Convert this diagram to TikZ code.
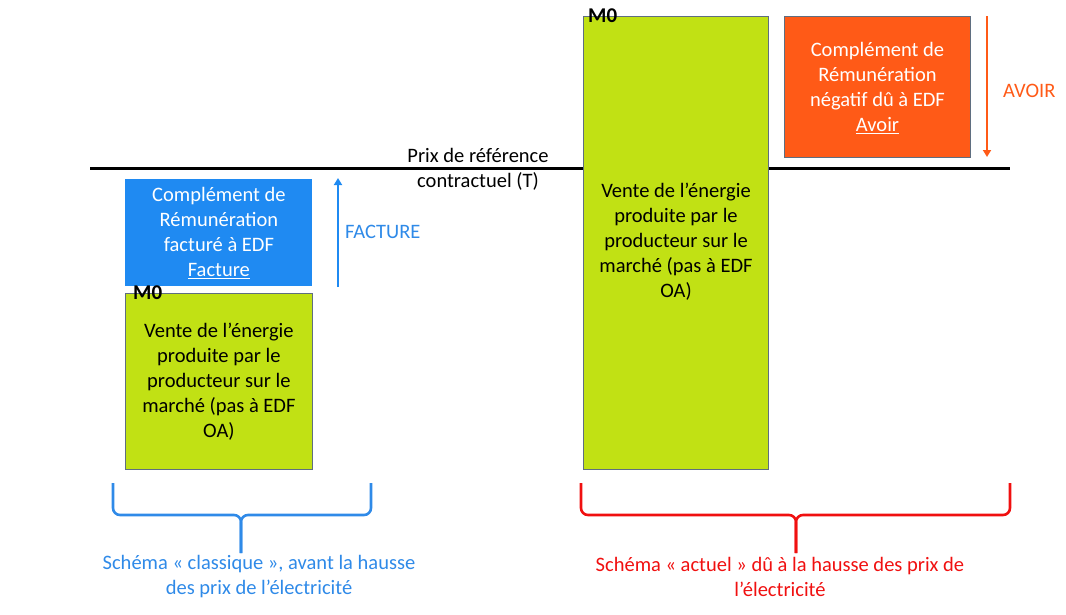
\documentclass[tikz,border=0pt]{standalone}
\usepackage{fontspec}
\setmainfont{Carlito}
\usetikzlibrary{arrows.meta}
\definecolor{cblue}{HTML}{1F8AF2}
\definecolor{cgreen}{HTML}{C1E114}
\definecolor{corange}{HTML}{FF5A17}
\definecolor{cred}{HTML}{F01010}
\definecolor{ctblue}{HTML}{2F8AE8}
\definecolor{cborder}{HTML}{5F6E80}
\tikzset{
  box/.style={draw=cborder, line width=0.8pt, inner sep=0pt, anchor=north west, align=center},
  greenbox/.style={box, fill=cgreen, text=black},
  bluebox/.style={box, draw=none, fill=cblue, text=white},
  orangebox/.style={box, draw=cborder, line width=1pt, fill=corange, text=white},
  mlabel/.style={font=\fontsize{21}{22}\selectfont\bfseries, inner sep=0pt, anchor=west},
  plain/.style={font=\fontsize{20.5}{25}\selectfont, align=center, inner sep=0pt},
  brace/.style={line width=2.6pt, rounded corners=7pt},
  arr/.style={line width=2.8pt, -{Triangle[width=8pt,length=7pt]}}
}
\begin{document}
\begin{tikzpicture}[x=1pt,y=-1pt]
\useasboundingbox (0,0) rectangle (1066,614);
% reference line
\coordinate (L0) at (90,168);
\coordinate (L1) at (1010,168);
\draw[line width=3pt] (L0) -- (L1);
% left scheme
\node[bluebox, minimum width=187pt, minimum height=107pt] (cb) at (125,179) {};
\node[plain, text=white] at (cb.center) {Complément de\\Rémunération\\facturé à EDF\\\underline{Facture}};
\node[greenbox, minimum width=187pt, minimum height=176pt] (g1) at (125,293) {};
\node[plain] at (g1.center) {Vente de l’énergie\\produite par le\\producteur sur le\\marché (pas à EDF\\OA)};
\node[mlabel] (m1) at (133,293) {M0};
\coordinate (fa0) at (338,287);
\coordinate (fa1) at (338,178);
\draw[arr, color=cblue] (fa0) -- (fa1);
\node[plain, text=ctblue, anchor=west] (fac) at (345,232) {FACTURE};
% label of reference
\node[plain] (ref) at (478,169.5) {Prix de référence\\contractuel (T)};
% right scheme
\node[greenbox, minimum width=185pt, minimum height=453pt] (g2) at (583,16) {};
\node[plain] at (676,242) {Vente de l’énergie\\produite par le\\producteur sur le\\marché (pas à EDF\\OA)};
\node[mlabel] (m2) at (588,16) {M0};
\node[orangebox, minimum width=186pt, minimum height=141pt] (ob) at (784,16) {};
\node[plain, text=white] at ([yshift=-1pt]ob.center) {Complément de\\Rémunération\\négatif dû à EDF\\\underline{Avoir}};
\coordinate (av0) at (987,16);
\coordinate (av1) at (987,157);
\draw[arr, color=corange] (av0) -- (av1);
\node[plain, text=corange, anchor=west] (avoir) at (1003,91) {AVOIR};
% braces
\coordinate (b1l) at (113,483);
\coordinate (b1r) at (371,483);
\coordinate (b1m) at (241,515);
\coordinate (b1t) at (241,553);
\draw[brace, color=ctblue] (b1l) -- (113,515) -- (b1m) -- (b1t);
\draw[brace, color=ctblue] (b1r) -- (371,515) -- (b1m) -- (b1t);
\node[plain, text=ctblue] (s1) at (259,576.5) {Schéma « classique », avant la hausse\\des prix de l’électricité};
\coordinate (b2l) at (581,483);
\coordinate (b2r) at (1010,483);
\coordinate (b2m) at (796,515);
\coordinate (b2t) at (796,553);
\draw[brace, color=cred] (b2l) -- (581,515) -- (b2m) -- (b2t);
\draw[brace, color=cred] (b2r) -- (1010,515) -- (b2m) -- (b2t);
\node[plain, text=cred] (s2) at (780,576.5) {Schéma « actuel » dû à la hausse des prix de\\l’électricité};
\end{tikzpicture}
\end{document}
